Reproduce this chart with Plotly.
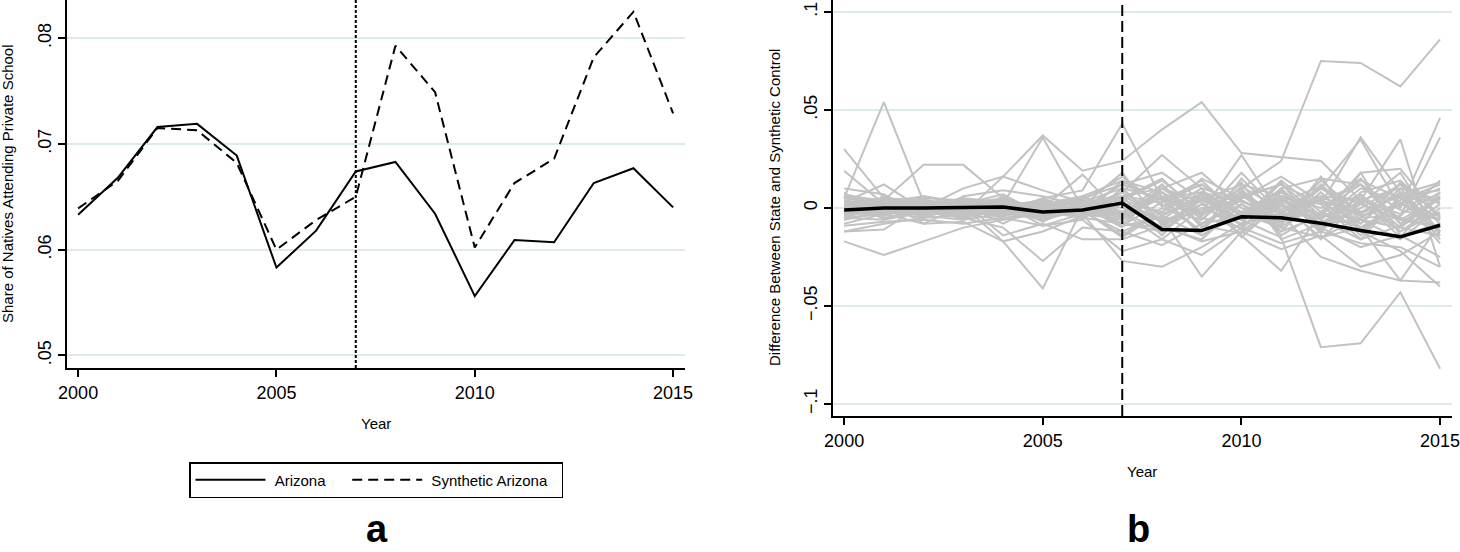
import plotly.graph_objects as go

# ---------------- data ----------------
years = list(range(2000, 2016))
treat_year = 2007

# Panel a: share of natives attending private school
arizona = [0.0633, 0.0668, 0.0716, 0.0719, 0.0689, 0.0583, 0.0618, 0.0674,
           0.0683, 0.0634, 0.0556, 0.0609, 0.0607, 0.0663, 0.0677, 0.0640]
synthetic_arizona = [0.0639, 0.0665, 0.0715, 0.0713, 0.0682, 0.0600, 0.0628, 0.0650,
                     0.0793, 0.0749, 0.0602, 0.0663, 0.0686, 0.0782, 0.0825, 0.0729]

# Panel b: gap (state minus synthetic control), in thousandths
arizona_gap = [-1, 0, 0, 0.3, 0.5, -2, -1, 2.5, -11, -11.5, -4.5, -5, -7.8, -11.5, -14.7, -8.8]

placebo_gaps = [
    [3, 1, -2, 2, 0, -3, 1, -4, 5, -2, 10, 24, 75, 74, 62, 86],
    [-4, 2, 3, -1, -2, 4, -2, 6, -3, 4, -6, -15, -71, -69, -43, -82],
    [6, 2, 4, -3, 16, 37, 19, 24, 40, 54, 28, 26, 24, 4, -3, 8],
    [5, 54, 3, -2, 1, 4, -2, 3, -6, 8, -4, 2, -8, 6, -5, -10],
    [30, 5, 1, 4, -3, 2, -1, -5, 8, -8, 4, -6, 10, -2, 6, 3],
    [-17, -24, -17, -10, -6, -3, 2, -8, 10, -3, 6, -2, 4, 12, -6, 5],
    [3, 4, 22, 22, 5, -2, 0, 8, -4, 6, -9, 4, -3, -10, 2, -6],
    [1, -3, 5, 4, 2, 36, 0, 12, 4, -12, 9, -6, 14, -3, 12, -8],
    [-6, 4, -8, 1, -17, -41, 0, -4, 6, -14, -2, 8, -5, 3, -12, 2],
    [8, -6, -2, -5, -10, -27, -10, -12, -19, -8, -4, 6, -10, -20, -14, -25],
    [-12, -8, -5, 3, -14, -8, -16, -16, -9, -17, -12, -21, -14, -30, -24, -12],
    [4, -2, 6, 3, -2, 5, 9, 43, 5, 12, -3, 9, -13, 18, 20, -5],
    [-5, 2, -4, -6, 2, -9, -3, -27, -30, -20, -8, -3, -25, -32, -37, -38],
    [2, -4, 3, -2, 1, -6, 4, -9, -5, -35, -12, 3, 11, -8, 13, -4],
    [-3, 6, -1, 2, -8, 2, 5, -4, 10, 3, -14, -32, -2, -10, -4, 14],
    [1, -3, 2, -4, 5, -1, -4, 6, 3, 12, -3, 6, 2, 36, 8, -12],
    [-2, 3, -5, 1, 2, -7, 2, -3, 12, -6, 11, -1, 10, 35, 0, 46],
    [0, -4, 3, -2, -4, 3, -6, 10, -8, 4, 7, -10, 6, 4, 35, -30],
    [2, 1, -3, 5, -1, 0, 3, -2, 8, -3, 5, 12, -4, -5, -4, 36],
    [-1, 4, 0, -3, 6, -2, -5, 3, -10, 5, -9, 2, -15, -10, -37, -8],
    [4, -1, 2, 0, -3, 5, -2, -6, 6, -8, 2, -12, 8, -12, -22, -40],
    [-3, 2, 1, -5, 3, -1, 4, 0, -6, -2, 27, -4, 5, -14, 6, -18],
    [2, -2, -1, 3, -4, 1, -2, 8, 27, 10, 4, -8, 12, -6, -10, 5],
    [-2, 1, -4, 2, 3, 0, 17, -4, 6, -5, -10, 8, -6, 10, 3, -12],
    [19, 2, 5, -4, 1, -3, 6, -2, -12, 6, -6, 10, -9, 4, -15, 8],
    [-12, -11, 2, -6, -3, -5, -1, 5, 15, -4, 10, -14, -2, 15, -8, -3],
    [3, 12, -1, 2, 7, -4, 1, -9, 3, 14, -5, 5, -11, 2, 18, -14],
    [1, -2, 0, 10, 16, 9, 3, 6, -14, 8, -2, -9, 16, -12, 4, 12],
    [-5, -3, -8, -7, -17, -12, -4, 14, 2, -12, 15, -5, -3, 7, -10, -14],
    [2, 3, -1, 4, 2, 1, 3, 10, 5, 8, 3, -2, 6, -4, 2, 10],
    [-2, -4, 2, -1, -5, -3, 0, -8, -12, 2, -6, 4, -8, 6, -12, -2],
    [5, 2, 3, 1, 4, -1, 5, 12, 18, 4, 12, 6, 0, 14, 5, -6],
    [-4, -1, -3, -2, 1, -4, -2, -12, -4, -14, -3, -10, -15, -5, 8, -16],
    [1, 5, 4, 2, -2, 3, 2, 4, -2, 15, 5, 16, 3, -8, 10, 4],
    [-6, -2, -5, -4, -1, 2, -3, -6, 8, -9, -13, 1, -6, -16, -9, 6],
    [4, 0, 1, 5, 3, 2, 6, 14, 8, -4, 18, -3, 10, 2, -6, -10],
    [0, -5, -2, -3, -6, -1, -4, -2, -16, 0, -8, 13, -12, 8, 14, -5],
    [7, 3, 6, 2, 5, -2, 1, 6, 10, 18, 0, -7, 4, -3, 7, 13],
    [-8, -3, -1, -4, -2, -6, -1, -14, 0, -6, 13, -16, -8, -6, -16, 0],
    [3, -1, 4, -2, 0, 4, -3, 2, -7, 2, -11, 10, 15, 12, -1, -6],
    [-1, 2, -3, 4, -4, 0, 1, -10, 12, -10, 6, -2, -10, 0, 12, 2],
    [6, 4, 2, -1, 3, -2, 4, 16, 1, 7, -6, 14, -2, 12, -8, 6],
    [-5, -6, 1, 1, -2, 3, -5, -8, -10, -16, 2, -8, 8, -10, 2, -4],
    [2, 0, -2, 3, 1, -5, 2, 4, 14, -2, 8, -12, -4, 18, -14, -8],
    [-3, 1, 4, -1, -1, 1, -1, -15, -2, 10, -15, 3, -16, 4, 10, -12],
    [10, 7, -4, 6, 9, 6, 1, 18, -9, 4, 6, 12, 2, -16, 6, 9],
    [-9, -7, -6, -8, -5, -9, -6, -22, -16, -24, -10, -18, -12, -18, -20, -30],
]

x_ticks = [2000, 2005, 2010, 2015]
a_ytick_vals = [0.05, 0.06, 0.07, 0.08]
a_ytick_text = [".05", ".06", ".07", ".08"]
b_ytick_vals = [-100, -50, 0, 50, 100]          # thousandths
b_ytick_text = ["\u2212.1", "\u2212.05", "0", ".05", ".1"]
legend_names = ["\u00a0Arizona\u00a0\u00a0\u00a0\u00a0", "\u00a0Synthetic Arizona\u00a0\u00a0"]

# ---------------- figure ----------------
W, H = 1460, 552
FONT = "Liberation Sans, Arial, Helvetica, sans-serif"
GRID = "#dfeaed"
GRAY = "#c2c2c2"

fig = go.Figure()

# Panel a
fig.add_trace(go.Scatter(x=years, y=arizona, mode="lines", name=legend_names[0],
                         line=dict(color="black", width=2), xaxis="x", yaxis="y"))
fig.add_trace(go.Scatter(x=years, y=synthetic_arizona, mode="lines", name=legend_names[1],
                         line=dict(color="black", width=2, dash="10px,6px"), xaxis="x", yaxis="y"))

# Panel b
for g in placebo_gaps:
    fig.add_trace(go.Scatter(x=years, y=g, mode="lines", showlegend=False, hoverinfo="skip",
                             line=dict(color=GRAY, width=2), xaxis="x2", yaxis="y2"))
fig.add_trace(go.Scatter(x=years, y=arizona_gap, mode="lines", showlegend=False,
                         line=dict(color="black", width=3.5), xaxis="x2", yaxis="y2"))

# treatment-year lines
fig.add_shape(type="line", xref="x", yref="y domain", x0=treat_year, x1=treat_year, y0=0, y1=1,
              line=dict(color="black", width=2, dash="3px,2px"), layer="above")
fig.add_shape(type="line", xref="x2", yref="y2 domain", x0=treat_year, x1=treat_year, y0=0, y1=1,
              line=dict(color="black", width=2, dash="11px,5px"), layer="above")

xa_common = dict(range=[1999.72, 2015.3], tickvals=x_ticks, ticks="outside", ticklen=7,
                 tickwidth=1.5, tickcolor="black", showline=True, linecolor="black",
                 linewidth=2, showgrid=False, zeroline=False, automargin=False,
                 ticklabeloverflow="allow",
                 tickfont=dict(family=FONT, size=18, color="black"))
ya_common = dict(ticks="outside", ticklen=7, tickwidth=1.5, tickcolor="black", showline=True,
                 linecolor="black", linewidth=2, showgrid=True, gridcolor=GRID, gridwidth=1.5,
                 zeroline=False, tickangle=-90, automargin=False, ticklabeloverflow="allow",
                 tickfont=dict(family=FONT, size=18, color="black"))

fig.update_layout(
    width=W, height=H, margin=dict(l=0, r=0, t=0, b=0, autoexpand=False),
    paper_bgcolor="white", plot_bgcolor="white",
    font=dict(family=FONT, color="black"),
    xaxis=dict(domain=[67 / W, 685 / W], anchor="y", **xa_common),
    yaxis=dict(domain=[1 - 368 / H, 1], anchor="x", range=[0.0488, 0.08362],
               tickvals=a_ytick_vals, ticktext=a_ytick_text, **ya_common),
    xaxis2=dict(domain=[833 / W, 1452 / W], anchor="y2", **xa_common),
    yaxis2=dict(domain=[1 - 416 / H, 1], anchor="x2", range=[-106.1, 106.1],
                tickvals=b_ytick_vals, ticktext=b_ytick_text, **ya_common),
    showlegend=True,
    legend=dict(orientation="h", x=376 / W, xanchor="center", y=1 - 462 / H, yanchor="top",
                bordercolor="black", borderwidth=1.5, bgcolor="white",
                font=dict(family=FONT, size=15, color="black"),
                itemwidth=70, itemclick=False, itemdoubleclick=False),
)

ann = [
    dict(text="Share of Natives Attending Private School", x=8 / W, y=1 - 184 / H, textangle=-90,
         font=dict(size=15), yanchor="middle"),
    dict(text="Difference Between State and Synthetic Control", x=774 / W, y=1 - 208 / H,
         textangle=-90, font=dict(size=15), yanchor="middle"),
    dict(text="Year", x=376 / W, y=1 - 423 / H, font=dict(size=15), yanchor="middle"),
    dict(text="Year", x=1142 / W, y=1 - 471 / H, font=dict(size=15), yanchor="middle"),
    dict(text="<b>a</b>", x=377 / W, y=0.0, font=dict(size=38), yanchor="bottom"),
    dict(text="<b>b</b>", x=1138 / W, y=0.0, font=dict(size=38), yanchor="bottom"),
]
for a in ann:
    a.update(xref="paper", yref="paper", xanchor="center", showarrow=False)
    a["font"] = dict(family=FONT, color="black", **a["font"])
fig.update_layout(annotations=ann)

fig.write_html("out.html", config={"displayModeBar": False},
               post_script="document.body.style.margin='0px';")
